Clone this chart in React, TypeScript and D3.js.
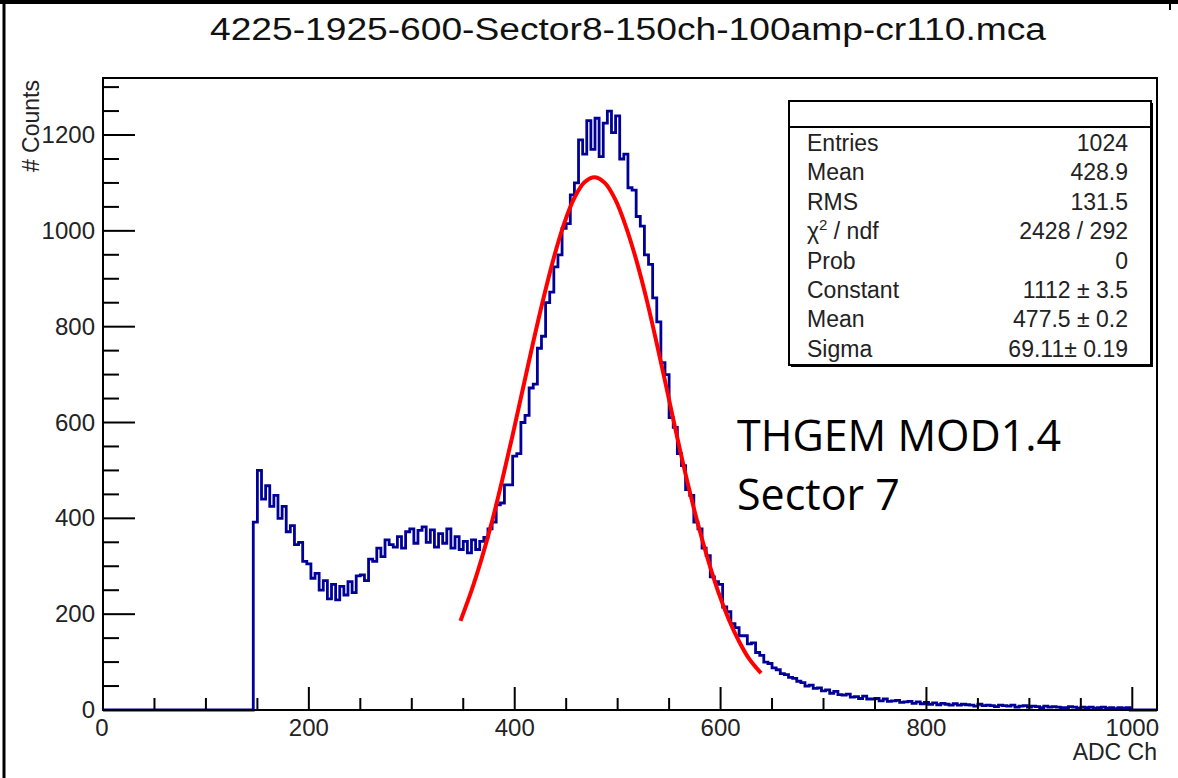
import React from "react";
import * as d3 from "d3";

// ---------- DATA ----------
const titleText = "4225-1925-600-Sector8-150ch-100amp-cr110.mca";
const xTitle = "ADC Ch";
const yTitle = "# Counts";
const xMajorTicks = [0, 200, 400, 600, 800, 1000];
const yMajorTicks = [0, 200, 400, 600, 800, 1000, 1200];

// histogram: bins of 4 channels starting at channel 146
const binStart = 146;
const binWidth = 4;
const countsLow = [
  392, 500, 440, 468, 425, 448, 400, 425, 372, 385, 345, 350, 310, 305, 275, 285,
  250, 270, 232, 262, 230, 258, 240, 268, 245, 280, 282, 270, 315, 310, 338, 320,
  355, 345, 340, 362, 338, 372, 378, 348, 375, 382, 350, 376, 340, 368, 348, 378,
  338, 362, 335, 352, 328, 355, 335, 352,
];
const countsPeak = [
  360, 378, 392, 428, 432, 470, 470, 530, 535, 600, 615, 672, 680, 755, 780, 850,
  872, 925, 950, 1005, 1015, 1075, 1100, 1190, 1160, 1230, 1170, 1235, 1155, 1225, 1250, 1205,
  1240, 1150, 1160, 1090, 1085, 1030, 1010, 950, 930, 860, 810, 725, 700, 610,
  590, 535, 510, 460, 448, 392, 378, 338, 322, 278, 268, 262, 215, 205, 180, 172,
  155, 155, 138, 140, 120, 114,
];
const countsTail = [
  100, 97, 88, 84, 76, 74, 68, 66, 60, 57, 50, 52, 45, 46, 40, 42,
  35, 39, 32, 31, 33, 27, 28, 24, 29, 23, 23, 24, 19, 23, 18, 19,
  20, 16, 17, 18, 14, 17, 13, 16, 12, 15, 11, 14, 12, 10, 13, 10,
  12, 11, 10, 8, 12, 9, 10, 9, 7, 10, 9, 8, 10, 6, 8, 9,
  6, 8, 7, 5, 8, 6, 7, 6, 5, 5, 7, 6, 4, 6, 5, 6,
  4, 5, 6, 4, 5, 3, 5, 4, 5,
];

// gaussian fit curve, read at 10-channel steps
const fitX = [
  348, 358, 368, 378, 388, 398, 408, 418, 428, 438, 448, 458, 468, 478, 488,
  498, 508, 518, 528, 538, 548, 558, 568, 578, 588, 598, 608, 618, 628, 638,
];
const fitY = [
  190, 249, 317, 394, 481, 574, 671, 768, 860, 944, 1015, 1069, 1102, 1112, 1099,
  1064, 1009, 940, 858, 765, 667, 568, 474, 388, 312, 245, 189, 143, 106, 80,
];

const statLabels = ["Entries", "Mean", "RMS", "CHI", "Prob", "Constant", "Mean", "Sigma"];
const statValues = ["1024", "428.9", "131.5", "2428 / 292", "0", "1112 \u00b1 3.5", "477.5 \u00b1 0.2", "69.11\u00b1 0.19"];

const noteLines = ["THGEM MOD1.4", "Sector 7"];

// ---------- LAYOUT ----------
const W = 1178;
const H = 778;
const frame = { left: 103, right: 1157, top: 78, bottom: 710 };
const xDomainMax = 1024;
const yDomainMax = 1319;
const BLUE = "#000099";
const RED = "#ff0000";
const ROOTFONT = "'Liberation Sans', Arial, Helvetica, sans-serif";

export default function App() {
  const x = d3.scaleLinear().domain([0, xDomainMax]).range([frame.left, frame.right]);
  const y = d3.scaleLinear().domain([0, yDomainMax]).range([frame.bottom, frame.top]);

  const counts = [...countsLow, ...countsPeak, ...countsTail];
  const pts: [number, number][] = [[0, 0], [binStart, 0]];
  counts.forEach((c, i) => pts.push([binStart + i * binWidth, c]));
  const histEnd = binStart + counts.length * binWidth;
  pts.push([histEnd, 0]);
  pts.push([xDomainMax, 0]);
  const histPath = d3
    .line<[number, number]>()
    .x((d) => x(d[0]))
    .y((d) => y(d[1]))
    .curve(d3.curveStepAfter)(pts) as string;

  const fitPath = d3
    .line<number>()
    .x((_, i) => x(fitX[i]))
    .y((d) => y(d))
    .curve(d3.curveCatmullRom)(fitY) as string;

  const xMinor = d3.range(0, xDomainMax + 1, 50).filter((v) => v % 200 !== 0);
  const yMinor = d3.range(0, yDomainMax + 1, 50).filter((v) => v % 200 !== 0);

  const box = { x0: 789, x1: 1151, y0: 101, yh: 127, y1: 365 };
  const rowY0 = 151;
  const rowH = 29.4;

  return (
    <svg
      width={W}
      height={H}
      viewBox={`0 0 ${W} ${H}`}
      style={{ position: "absolute", left: 0, top: 0, background: "#fff" }}
    >
      <rect x={0} y={0} width={W} height={H} fill="#fff" />
      {/* outer border */}
      <line x1={0} x2={W} y1={2} y2={2} stroke="#000" strokeWidth={4} />
      <line x1={4} x2={4} y1={0} y2={H} stroke="#000" strokeWidth={3} />
      <line x1={1170} x2={1170} y1={0} y2={10} stroke="#000" strokeWidth={2} />

      {/* title */}
      <text
        x={628}
        y={40}
        textAnchor="middle"
        fontFamily={ROOTFONT}
        fontSize={31}
        textLength={836}
        lengthAdjust="spacingAndGlyphs"
        fill="#111"
      >
        {titleText}
      </text>

      {/* histogram */}
      <path d={histPath} fill="none" stroke={BLUE} strokeWidth={2.8} strokeLinejoin="miter" />
      {/* fit */}
      <path d={fitPath} fill="none" stroke={RED} strokeWidth={4} strokeLinecap="square" />

      {/* frame */}
      <rect
        x={frame.left}
        y={frame.top}
        width={frame.right - frame.left}
        height={frame.bottom - frame.top}
        fill="none"
        stroke="#000"
        strokeWidth={2}
      />

      {/* y ticks */}
      {yMajorTicks.map((v) => (
        <g key={"ym" + v}>
          <line x1={frame.left} x2={frame.left + 32} y1={y(v)} y2={y(v)} stroke="#000" strokeWidth={2} />
          <text
            x={95}
            y={y(v) + 8}
            textAnchor="end"
            fontFamily={ROOTFONT}
            fontSize={24}
            fill="#222"
          >
            {v}
          </text>
        </g>
      ))}
      {yMinor.map((v) => (
        <line key={"yn" + v} x1={frame.left} x2={frame.left + 16} y1={y(v)} y2={y(v)} stroke="#000" strokeWidth={2} />
      ))}

      {/* x ticks */}
      {xMajorTicks.map((v) => (
        <g key={"xm" + v}>
          <line x1={x(v)} x2={x(v)} y1={frame.bottom} y2={frame.bottom - 23} stroke="#000" strokeWidth={2} />
          <text
            x={x(v) - (v === 0 ? 1 : 0)}
            y={736}
            textAnchor="middle"
            fontFamily={ROOTFONT}
            fontSize={24}
            fill="#222"
          >
            {v}
          </text>
        </g>
      ))}
      {xMinor.map((v) => (
        <line key={"xn" + v} x1={x(v)} x2={x(v)} y1={frame.bottom} y2={frame.bottom - 12} stroke="#000" strokeWidth={2} />
      ))}

      {/* axis titles */}
      <text x={1157} y={760} textAnchor="end" fontFamily={ROOTFONT} fontSize={23} fill="#222">
        {xTitle}
      </text>
      <text
        transform={`translate(39, 80) rotate(-90)`}
        textAnchor="end"
        fontFamily={ROOTFONT}
        fontSize={23}
        fill="#222"
      >
        {yTitle}
      </text>

      {/* stats box */}
      <rect x={box.x0 + 2} y={box.y0 + 2} width={box.x1 - box.x0} height={box.y1 - box.y0} fill="#000" />
      <rect x={box.x0} y={box.y0} width={box.x1 - box.x0} height={box.y1 - box.y0} fill="#fff" stroke="#000" strokeWidth={2} />
      <line x1={box.x0} x2={box.x1} y1={box.yh} y2={box.yh} stroke="#000" strokeWidth={2} />
      {statLabels.map((lab, i) => (
        <g key={"st" + i} fontFamily={ROOTFONT} fontSize={23} fill="#222">
          <text x={807} y={rowY0 + i * rowH}>
            {lab === "CHI" ? (
              <>
                {"\u03c7"}
                <tspan dy={-9} fontSize={15}>
                  2
                </tspan>
                <tspan dy={9}>{" / ndf"}</tspan>
              </>
            ) : (
              lab
            )}
          </text>
          <text x={1128} y={rowY0 + i * rowH} textAnchor="end">
            {statValues[i]}
          </text>
        </g>
      ))}

      {/* annotation */}
      {noteLines.map((t, i) => (
        <text
          key={"nl" + i}
          x={737}
          y={451 + i * 59}
          fontFamily="'Open Sans', 'Noto Sans', sans-serif"
          fontSize={43}
          fill="#000"
        >
          {t}
        </text>
      ))}
    </svg>
  );
}
